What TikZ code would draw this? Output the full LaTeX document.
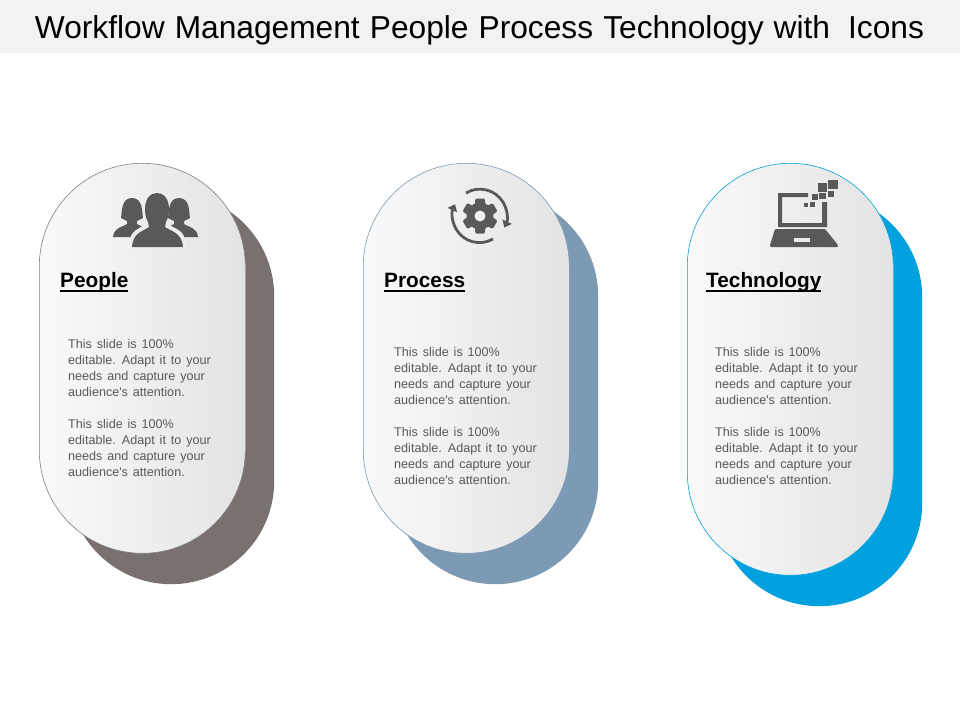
\documentclass[tikz,border=0pt]{standalone}
\usepackage{xcolor}
\usepackage{fontspec}
\setmainfont{Liberation Sans}
\usetikzlibrary{arrows.meta}
\definecolor{barcol}{HTML}{F2F2F2}
\definecolor{iconcol}{HTML}{595959}
\definecolor{bodycol}{HTML}{595959}
\definecolor{peoplecol}{HTML}{787170}
\definecolor{processcol}{HTML}{7D9AB4}
\definecolor{techcol}{HTML}{00A1DE}
\newcommand{\titlefont}{\fontsize{31.7}{36}\selectfont\spaceskip 10.1pt\relax}
\newcommand{\bodyfont}{\fontsize{12.6}{16}\selectfont\spaceskip 4.9pt\relax}
\newcommand{\headline}[1]{\setbox0\hbox{#1}\rlap{\rule[-4.7pt]{\wd0}{1.7pt}}\box0}
\tikzstyle{back} = [rectangle, rounded corners=103pt, minimum width=206pt, inner sep=0pt, anchor=north west]
\tikzstyle{pill} = [back, left color=white!98!black, right color=white!89!black, line width=.6pt]
\tikzstyle{head} = [anchor=base west, inner sep=0pt, font=\fontsize{20.8}{24}\selectfont\bfseries]
\tikzstyle{body} = [anchor=north west, inner sep=0pt, align=left, text=bodycol, font=\bodyfont]
\tikzstyle{icon} = [fill=iconcol, draw=none]
\tikzstyle{sweep} = [draw=iconcol, line width=2.8pt, -{Triangle[length=6.5pt,width=10pt]}]
\newcommand{\slidetext}{This slide is 100\%\\editable. Adapt it to your\\needs and capture your\\audience\textquotesingle s attention.\\[16pt]This slide is 100\%\\editable. Adapt it to your\\needs and capture your\\audience\textquotesingle s attention.}
\begin{document}
\begin{tikzpicture}[x=1pt,y=-1pt]
\useasboundingbox (0,0) rectangle (960,720);
\fill[white] (0,0) rectangle (960,720);
\fill[barcol] (0,0) rectangle (960,53);
\node[inner sep=0pt, font=\titlefont] (title) at (479.5,30) {Workflow Management People Process Technology with\hspace{8pt} Icons};

% shadows
\node[back, fill=peoplecol, minimum height=391pt] (peopleback) at (68,193) {};
\node[back, fill=processcol, minimum height=391pt] (processback) at (392,193) {};
\node[back, fill=techcol, minimum height=412pt] (techback) at (716,194) {};

% front panels
\node[pill, draw=black!50, minimum height=390pt] (peoplepill) at (39,163) {};
\node[pill, draw=processcol, minimum height=390pt] (processpill) at (363,163) {};
\node[pill, draw=techcol, minimum height=412pt] (techpill) at (687,163) {};

% headings
\node[head] (peoplehead) at (60,287) {\headline{People}};
\node[head] (processhead) at (384,287) {\headline{Process}};
\node[head] (techhead) at (706,287) {\headline{Technology}};

% text
\node[body] (peopletext) at (68,339) {\slidetext};
\node[body] (processtext) at (394,347) {\slidetext};
\node[body] (techtext) at (715,347) {\slidetext};

% people icon
\foreach \mx in {132,179} {
  \fill[icon] (\mx-11,218) .. controls (\mx-10,212) and (\mx-11,198) .. (\mx,198)
    .. controls (\mx+11,198) and (\mx+10,212) .. (\mx+11,218) -- (\mx+5,221) -- (\mx+5,224)
    .. controls (\mx+9,227) and (\mx+18,227) .. (\mx+19,237) -- (\mx-19,237)
    .. controls (\mx-18,227) and (\mx-9,227) .. (\mx-5,224) -- (\mx-5,221) -- cycle;
}
\fill[white!93!black, draw=white!93!black, line width=2.5pt] (145,222) -- (145,226) .. controls (140,230) and (131,231) .. (131,243) -- (131,248) -- (184,248) -- (184,243)
  .. controls (184,231) and (174,230) .. (169,226) -- (169,222) -- cycle;
\fill[icon] (148,222) .. controls (143,214) and (143,193) .. (157,193)
  .. controls (171,193) and (171,214) .. (166,222) -- (165,227)
  .. controls (170,231) and (182,232) .. (183,247) -- (132,247)
  .. controls (133,232) and (144,231) .. (149,227) -- cycle;

% process icon
\foreach \a in {0,60,...,300} {
  \fill[icon, rotate around={\a:(480,216)}, rounded corners=1.5pt] (475,198.5) rectangle (485,206);
}
\fill[icon] (480,216) circle (13.5pt);
\fill[white!94!black] (480,216) circle (5.5pt);
\draw[sweep] (466,193) arc[start angle=121, end angle=-25, radius=27pt];
\draw[sweep] (493,239) arc[start angle=-60, end angle=-205, radius=27pt];

% technology icon
\fill[icon] (778,227) -- (778,193) -- (808,193) -- (808,197) -- (782,197) -- (782,223) -- (822,223) -- (822,202) -- (827,202) -- (827,227) -- cycle;
\fill[icon, rounded corners=1pt] (775,229) -- (825,229) -- (838,245) -- (838,247) -- (770,247) -- (770,245) -- cycle;
\fill[white!92!black] (794,238) rectangle (810,242);
\fill[icon] (818,183) rectangle (827,192);
\fill[icon] (828,180) rectangle (838,189);
\fill[icon] (812,194) rectangle (818,200);
\fill[icon] (819,193) rectangle (826,199);
\fill[icon] (828,191) rectangle (834,197);
\fill[icon] (810,202) rectangle (815,207);
\fill[icon] (804,203) rectangle (808,207);
\end{tikzpicture}
\end{document}
